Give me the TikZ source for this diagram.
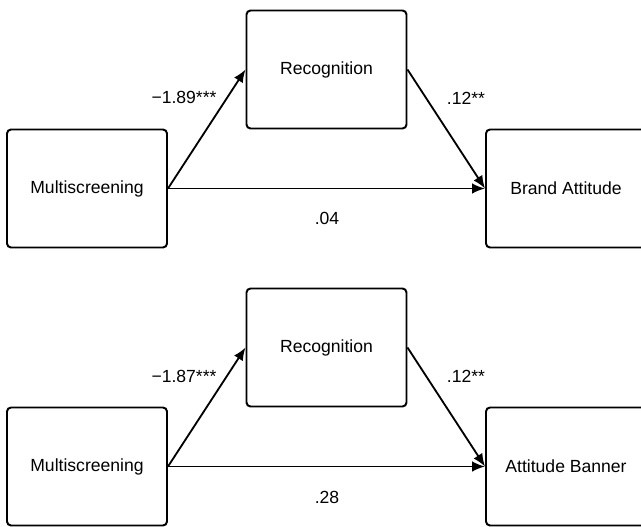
\documentclass[tikz,border=0pt]{standalone}
\usepackage{fontspec}
\setmainfont{Liberation Sans}
\usetikzlibrary{arrows.meta}
\tikzstyle{varbox}=[draw,line width=1.4pt,rounded corners=0.1cm,minimum width=4cm,minimum height=2.95cm,font=\fontsize{12.5}{15}\selectfont]
\tikzstyle{effect}=[line width=1.3pt,-{Latex[length=0.32cm,width=0.26cm]}]
\tikzstyle{coef}=[font=\fontsize{12.5}{15}\selectfont]

\begin{document}
\begin{tikzpicture}
\useasboundingbox (0,0) rectangle (16.025,13.15);

% brand attitude model
\node[varbox] (multiA) at (2.175,8.4375) {Multiscreening};
\node[varbox] (recogA) at (8.1625,11.4125) {Recognition};
\node[varbox] (brandA) at (14.15,8.4375) {Brand Attitude};
\draw[effect] (multiA.east) -- (recogA.west);
\draw[effect] (recogA.east) -- (brandA.west);
\draw[effect] (multiA.east) -- (brandA.west);
\node[coef] (aA) at (4.6,10.725) {−1.89***};
\node[coef] (bA) at (11.65,10.7) {.12**};
\node[coef] (cA) at (8.175,7.7) {.04};

% attitude banner model
\node[varbox] (multiB) at (2.175,1.4875) {Multiscreening};
\node[varbox] (recogB) at (8.1625,4.4625) {Recognition};
\node[varbox] (bannerB) at (14.15,1.4875) {Attitude Banner};
\draw[effect] (multiB.east) -- (recogB.west);
\draw[effect] (recogB.east) -- (bannerB.west);
\draw[effect] (multiB.east) -- (bannerB.west);
\node[coef] (aB) at (4.6,3.75) {−1.87***};
\node[coef] (bB) at (11.65,3.75) {.12**};
\node[coef] (cB) at (8.175,0.725) {.28};
\end{tikzpicture}
\end{document}
